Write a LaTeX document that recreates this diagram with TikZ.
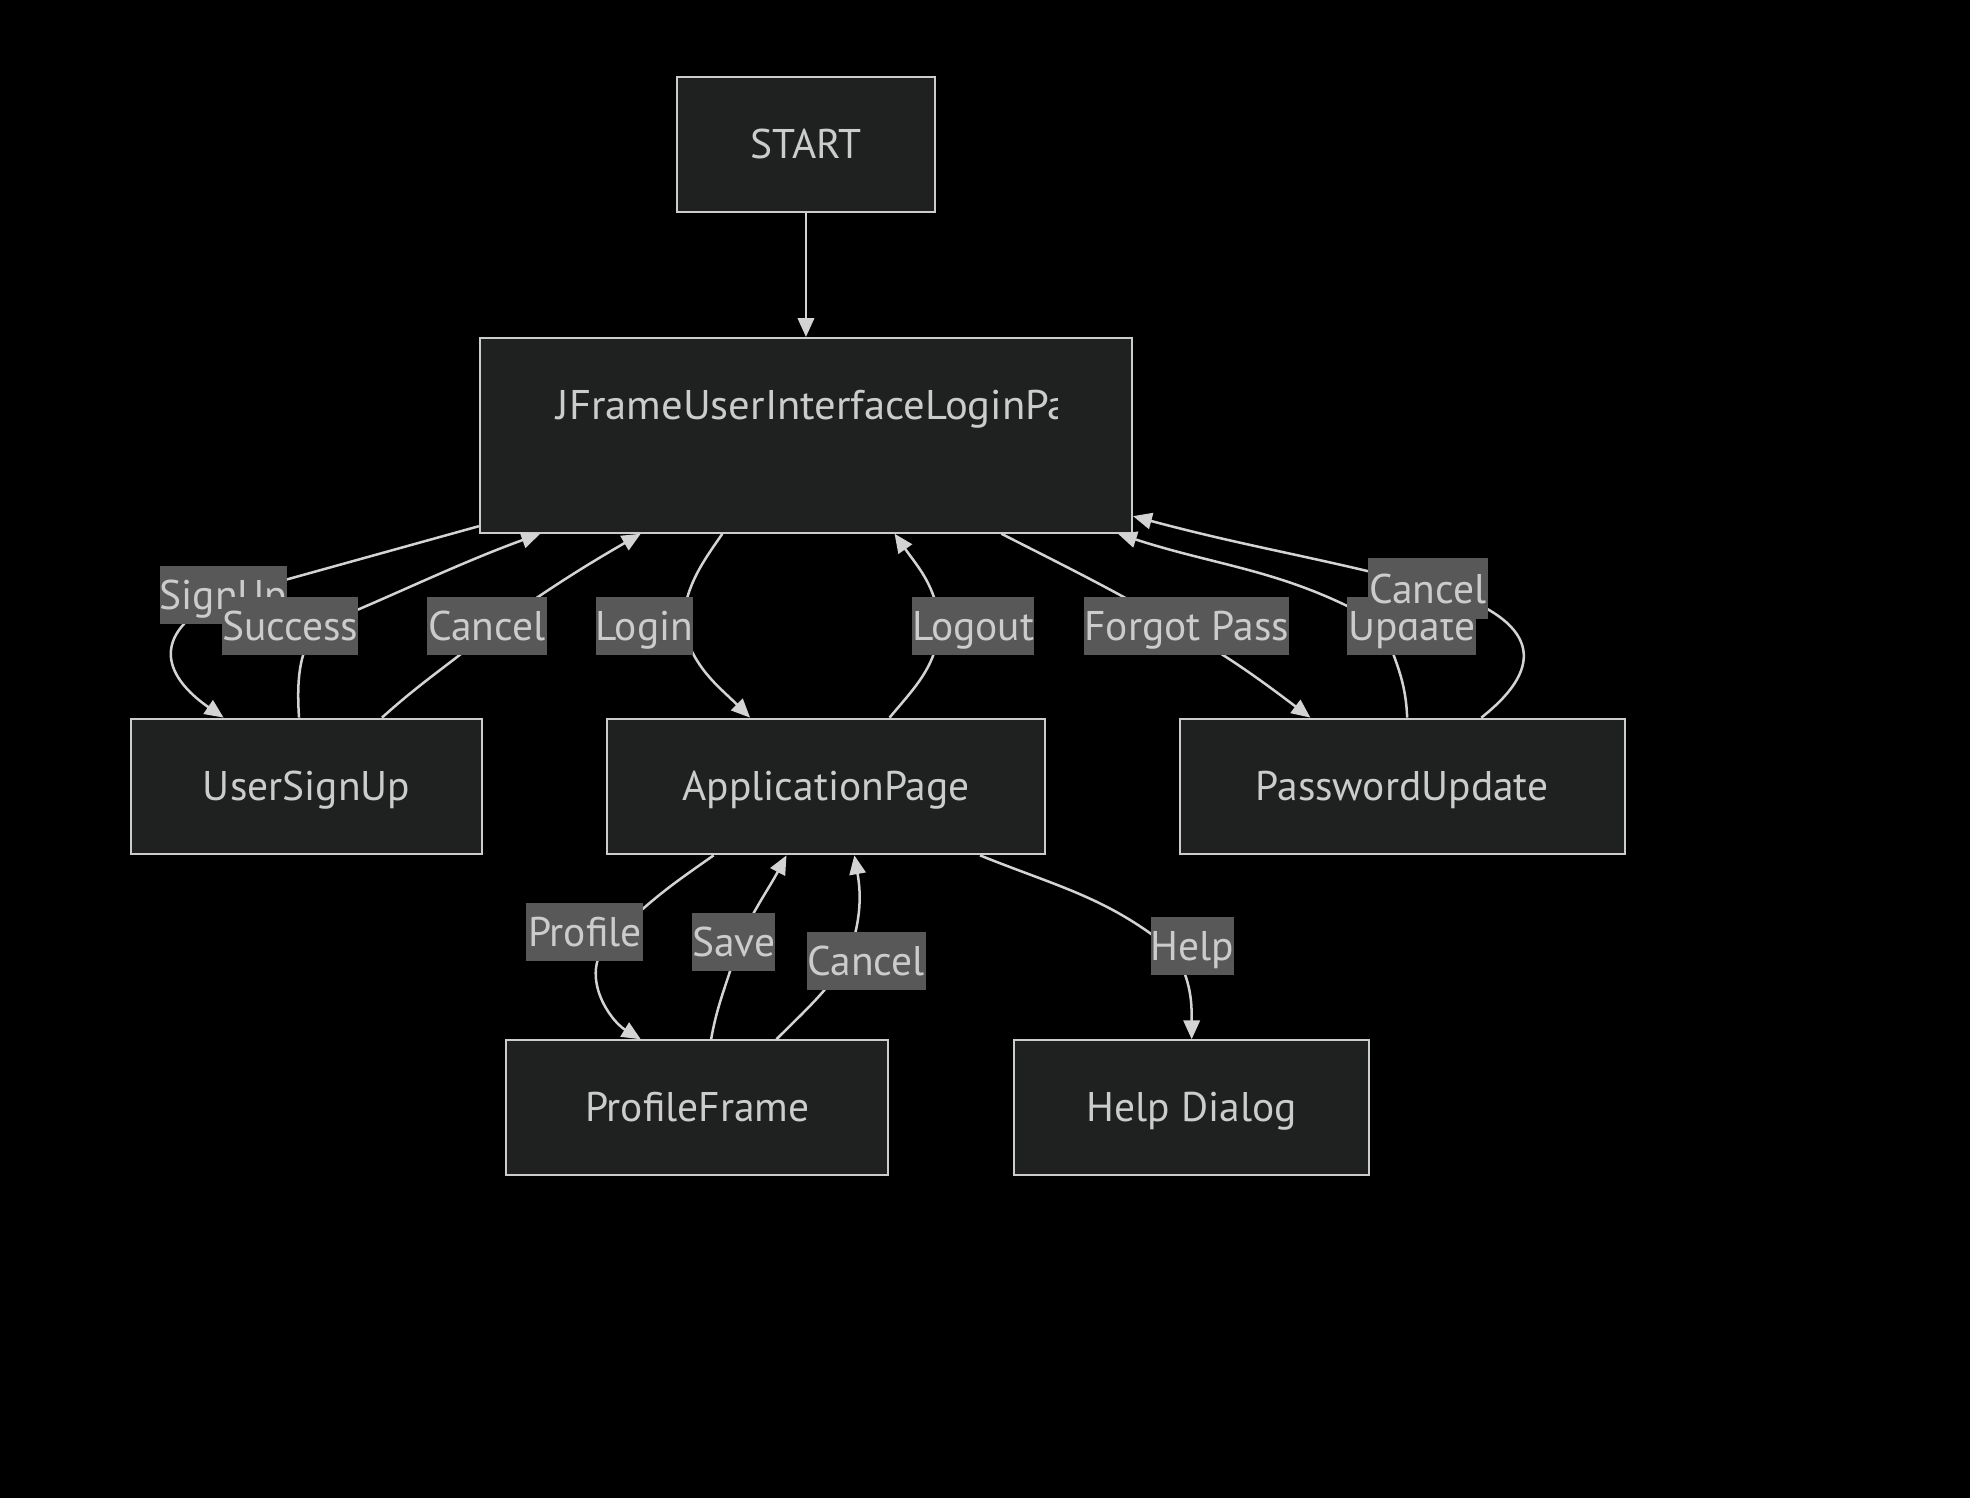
\documentclass[tikz,border=0pt]{standalone}
\usepackage{graphicx}
\usepackage{fontspec}
\setmainfont{PT Sans}
\usetikzlibrary{arrows.meta}
\definecolor{nodefill}{HTML}{1F2020}
\definecolor{nodeline}{HTML}{CCCCCC}
\definecolor{txt}{HTML}{CCCCCC}
\definecolor{lblfill}{HTML}{585858}
\definecolor{edgecol}{HTML}{D3D3D3}
\newcommand{\dfont}{\fontsize{33}{40}\selectfont}
\begin{document}
\begin{tikzpicture}[x=1pt,y=1pt,
 box/.style={draw=nodeline, line width=1.6pt, fill=nodefill, text=txt, font=\dfont, inner sep=0pt, text height=23pt, text depth=0pt},
 lbl/.style={fill=lblfill, text=txt, font=\dfont, inner xsep=0pt, inner ysep=0pt, minimum height=46pt, text height=23pt, text depth=0pt},
 edge/.style={draw=edgecol, line width=2pt, -{Triangle[length=15pt,width=13pt]}}
]
\fill[black] (0,0) rectangle (1568,-1192);
\useasboundingbox (0,0) rectangle (1568,-1192);

% nodes
\node[box, minimum width=205pt, minimum height=108pt] (start) at (641.5,-115) {START};
\node[box, minimum width=519pt, minimum height=155pt] (jf) at (641.5,-346.5) {};
\begin{scope}
\clip (420,-290) rectangle (841.5,-350);
\node[text=txt, font=\dfont, inner sep=0pt, anchor=base west] (jftext) at (443,-334) {\scalebox{1.028}[1]{JFrameUserInterfaceLoginPa}};
\end{scope}
\node[box, minimum width=280pt, minimum height=108pt] (us) at (244,-626) {UserSignUp};
\node[box, minimum width=349pt, minimum height=108pt] (ap) at (657.5,-626) {ApplicationPage};
\node[box, minimum width=354pt, minimum height=108pt] (pu) at (1116,-626) {PasswordUpdate};
\node[box, minimum width=304pt, minimum height=107pt] (pf) at (555,-881.5) {ProfileFrame};
\node[box, minimum width=283pt, minimum height=107pt] (hd) at (948.5,-881.5) {Help Dialog};

% waypoints
\coordinate (w1) at (175,-476);
\coordinate (w2) at (255,-497);
\coordinate (w3) at (395,-498);
\coordinate (w5) at (543,-498);
\coordinate (w6) at (748,-498);
\coordinate (w7) at (935,-498);
\coordinate (w8) at (1100,-497);
\coordinate (w9) at (1150,-470);
\coordinate (w10) at (492,-742);
\coordinate (w11) at (588,-750);
\coordinate (w12) at (674,-765);
\coordinate (w13) at (935,-758);

% edges
\draw[edge] (start.south) -- (jf.north);
\draw[edge] ([yshift=6pt]jf.south west) -- (w1) .. controls (110,-510) and (140,-545) .. ([xshift=-66pt]us.north);
\draw[edge] ([xshift=-6pt]us.north) .. controls (236,-540) and (238,-515) .. (w2) .. controls (290,-485) and (360,-450) .. ([xshift=-211.5pt]jf.south);
\draw[edge] ([xshift=60pt]us.north) to[out=42,in=220] (w3) to[out=35,in=210] ([xshift=-131.5pt]jf.south);
\draw[edge] ([xshift=-66.5pt]jf.south) to[out=235,in=85] (w5) to[out=-75,in=135] ([xshift=-60.5pt]ap.north);
\draw[edge] ([xshift=50.5pt]ap.north) to[out=50,in=-95] (w6) to[out=95,in=-55] ([xshift=70.5pt]jf.south);
\draw[edge] ([xshift=155.5pt]jf.south) to[out=-27,in=150] (w7) to[out=-30,in=143] ([xshift=-73pt]pu.north);
\draw[edge] ([xshift=4pt]pu.north) to[out=92,in=-70] (w8) to[out=150,in=-18] ([xshift=-12pt]jf.south east);
\draw[edge] ([xshift=63pt]pu.north) .. controls (1225,-535) and (1232,-498) .. (w9) to[out=165,in=-15] ([yshift=14pt]jf.south east);
\draw[edge] ([xshift=-89.5pt]ap.south) to[out=215,in=45] (w10) .. controls (455,-770) and (485,-812) .. ([xshift=-45pt]pf.north);
\draw[edge] ([xshift=11pt]pf.north) to[out=80,in=-105] (w11) to[out=65,in=-118] ([xshift=-31.5pt]ap.south);
\draw[edge] ([xshift=63pt]pf.north) to[out=45,in=-125] (w12) to[out=70,in=-80] ([xshift=22.5pt]ap.south);
\draw[edge] ([xshift=122.5pt]ap.south) to[out=-22,in=140] (w13) to[out=-60,in=90] (hd.north);

% edge labels
\node[lbl, minimum width=96pt] (lsignup) at (178,-473.5) {SignUp};
\node[lbl, minimum width=108pt] (lsuccess) at (231,-498) {Success};
\node[lbl, minimum width=95pt] (lcancela) at (387.5,-498) {Cancel};
\node[lbl, minimum width=74pt] (llogin) at (513,-498) {Login};
\node[lbl, minimum width=95pt] (llogout) at (774.5,-498) {Logout};
\node[lbl, minimum width=161pt] (lforgot) at (944.5,-498) {Forgot Pass};
\node[lbl, minimum width=103pt] (lupdate) at (1123.5,-498) {Update};
\node[lbl, minimum width=95pt, minimum height=49pt] (lcancelb) at (1136.5,-468.5) {Cancel};
\node[lbl, minimum width=93pt] (lprofile) at (465.5,-741.5) {Profile};
\node[lbl, minimum width=64pt] (lsave) at (584,-749.5) {Save};
\node[lbl, minimum width=95pt] (lcancelc) at (689.5,-765) {Cancel};
\node[lbl, minimum width=66pt] (lhelp) at (949,-753) {Help};
\end{tikzpicture}
\end{document}
